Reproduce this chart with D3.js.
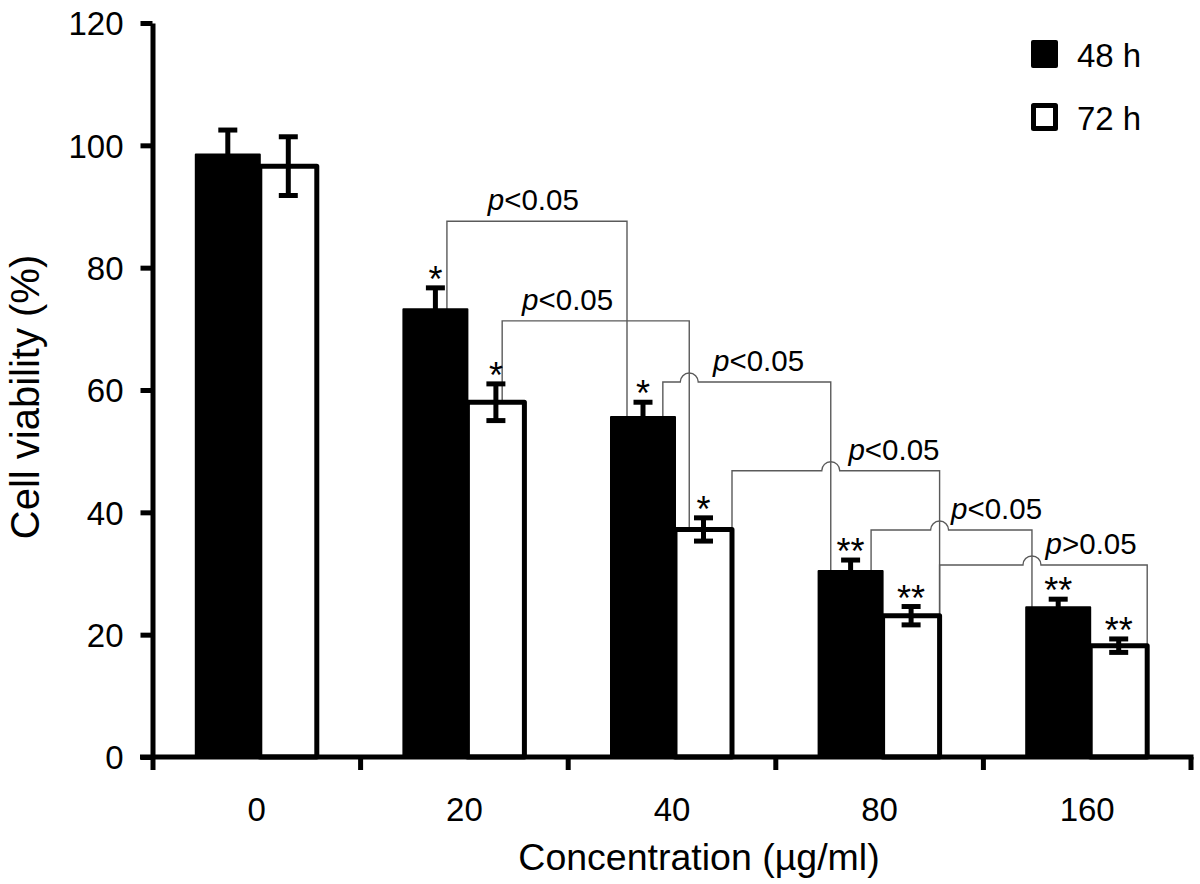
<!DOCTYPE html>
<html>
<head>
<meta charset="utf-8">
<script src="https://cdn.jsdelivr.net/npm/d3@7"></script>
<style>
  html, body { margin: 0; padding: 0; background: #fff; }
  svg { display: block; }
  text { font-family: "Liberation Sans", Arial, sans-serif; fill: #000; }
</style>
</head>
<body>
<svg id="chart" width="1200" height="884"></svg>
<script>
// ---------------- data ----------------
const categories = ["0", "20", "40", "80", "160"];
const series = ["48 h", "72 h"];
const values48 = [98.5, 73.2, 55.6, 30.4, 24.5];
const errors48 = [4.0, 3.5, 2.4, 1.8, 1.3];
const values72 = [96.6, 58.0, 37.2, 23.1, 18.2];
const errors72 = [4.8, 3.0, 1.9, 1.5, 1.1];
const stars48 = ["", "*", "*", "**", "**"];
const stars72 = ["", "*", "*", "**", "**"];
const yTicks = [0, 20, 40, 60, 80, 100, 120];
const xTitle = "Concentration (\u00b5g/ml)";
const yTitle = "Cell viability (%)";
// comparison brackets: [group index, series index]
const bracketFrom = [[1, 0], [1, 1], [2, 0], [2, 1], [3, 0], [3, 1]];
const bracketTo   = [[2, 0], [2, 1], [3, 0], [3, 1], [4, 0], [4, 1]];
const bracketLevel = [87.6, 71.3, 61.3, 46.8, 37.1, 31.4];
const bracketOp = ["<", "<", "<", "<", "<", ">"];
const bracketP = ["0.05", "0.05", "0.05", "0.05", "0.05", "0.05"];

// ---------------- layout (styles / positions) ----------------
const legFracFrom = [0.68, 0.61, 0.81, 1.0, 0.82, 1.0];
const legFracTo   = [0.25, 0.25, 0.19, 1.0, 0.09, 1.0];
const labelFrac   = [0.48, 0.35, 0.57, 0.78, 0.78, 0.73];
const humpFlag    = [false, false, true, true, true, true];

const svg = d3.select("#chart");
const x0 = d3.scaleBand().domain(categories).range([153, 1191]).padding(0);
const y = d3.scaleLinear().domain([0, 120]).range([757, 23]);
const bw = x0.bandwidth();
const cx = c => x0(c) + bw / 2;

const valuesBySeries = [values48, values72];
const errorsBySeries = [errors48, errors72];
const starsBySeries = [stars48, stars72];

function barRect(gi, si) {
  const c = cx(categories[gi]);
  if (si === 0) return { x: c - 61, w: 64 };
  return { x: c + 3, w: 57 };
}

// ---------------- brackets (under bars) ----------------
const bG = svg.append("g").attr("fill", "none").attr("stroke", "#5a5a5a").attr("stroke-width", 1.4);
const rightLegX = [];
bracketFrom.forEach((f, i) => {
  const t = bracketTo[i];
  const rf = barRect(f[0], f[1]);
  const rt = barRect(t[0], t[1]);
  const xl = rf.x + legFracFrom[i] * rf.w;
  const xr = rt.x + legFracTo[i] * rt.w;
  rightLegX.push(xr);
  const yl = y(valuesBySeries[f[1]][f[0]]);
  const yr = y(valuesBySeries[t[1]][t[0]]);
  const yb = y(bracketLevel[i]);
  let d = `M${xl},${yl}V${yb}`;
  if (humpFlag[i] && i > 0) {
    const hx = rightLegX[i - 1];
    const r = 9;
    d += `H${hx - r}A${r},${r} 0 0 1 ${hx + r},${yb}`;
  }
  d += `H${xr}V${yr}`;
  bG.append("path").attr("d", d);
  const lt = svg.append("text")
    .attr("x", xl + labelFrac[i] * (xr - xl))
    .attr("y", yb - 11)
    .attr("text-anchor", "middle")
    .attr("font-size", 29.5);
  lt.append("tspan").attr("font-style", "italic").text("p");
  lt.append("tspan").text(bracketOp[i] + bracketP[i]);
});

// ---------------- bars ----------------
const barsG = svg.append("g");
categories.forEach((c, gi) => {
  const r = barRect(gi, 1);
  barsG.append("rect")
    .attr("x", r.x).attr("width", r.w)
    .attr("y", y(values72[gi])).attr("height", y(0) - y(values72[gi]))
    .attr("fill", "#fff").attr("stroke", "#000").attr("stroke-width", 5)
    .attr("stroke-linejoin", "round");
});
categories.forEach((c, gi) => {
  const r = barRect(gi, 0);
  barsG.append("rect")
    .attr("x", r.x).attr("width", r.w)
    .attr("y", y(values48[gi])).attr("height", y(0) - y(values48[gi]))
    .attr("fill", "#000").attr("stroke", "#000").attr("stroke-width", 2)
    .attr("stroke-linejoin", "round");
});

// ---------------- error bars & stars ----------------
const eG = svg.append("g").attr("stroke", "#000").attr("stroke-width", 5).attr("fill", "none");
series.forEach((s, si) => {
  categories.forEach((c, gi) => {
    const r = barRect(gi, si);
    const ex = r.x + r.w / 2;
    const v = valuesBySeries[si][gi], e = errorsBySeries[si][gi];
    const yt = y(v + e), yb = y(v - e);
    eG.append("line").attr("x1", ex).attr("x2", ex).attr("y1", yt).attr("y2", yb);
    eG.append("line").attr("x1", ex - 9.5).attr("x2", ex + 9.5).attr("y1", yt).attr("y2", yt);
    eG.append("line").attr("x1", ex - 9.5).attr("x2", ex + 9.5).attr("y1", yb).attr("y2", yb);
    const st = starsBySeries[si][gi];
    if (st) {
      svg.append("text").attr("x", ex).attr("y", yt + 4)
        .attr("text-anchor", "middle").attr("font-size", 36).text(st);
    }
  });
});

// ---------------- axes ----------------
const yAxis = d3.axisLeft(y).tickValues(yTicks).tickSize(12).tickSizeOuter(0).tickPadding(17);
const gy = svg.append("g").attr("transform", "translate(152.5,0)").call(yAxis);
gy.select(".domain").attr("stroke-width", 5).attr("stroke", "#000");
gy.selectAll(".tick line").attr("stroke-width", 5).attr("stroke", "#000");
gy.selectAll(".tick text").attr("font-size", 33).attr("font-family", "Liberation Sans, Arial, sans-serif")
  .attr("dy", "0.36em");

const xAxisG = svg.append("g");
xAxisG.append("line").attr("x1", 140).attr("x2", x0.range()[1] + 2.5)
  .attr("y1", y(0)).attr("y2", y(0)).attr("stroke", "#000").attr("stroke-width", 5);
const boundaries = categories.map(c => x0(c)).concat([x0.range()[1]]);
boundaries.forEach(b => {
  xAxisG.append("line").attr("x1", b).attr("x2", b).attr("y1", y(0)).attr("y2", y(0) + 13)
    .attr("stroke", "#000").attr("stroke-width", 5);
});
categories.forEach(c => {
  xAxisG.append("text").attr("x", cx(c)).attr("y", 821).attr("text-anchor", "middle")
    .attr("font-size", 33).text(c);
});

svg.append("text").attr("x", 699).attr("y", 870).attr("text-anchor", "middle")
  .attr("font-size", 37.5).text(xTitle);
svg.append("text").attr("transform", "translate(39,397) rotate(-90)")
  .attr("text-anchor", "middle").attr("font-size", 40).text(yTitle);

// ---------------- legend ----------------
const lg = svg.append("g");
series.forEach((s, i) => {
  const ly = 40 + i * 63;
  if (i === 0) {
    lg.append("rect").attr("x", 1031).attr("y", ly).attr("width", 27).attr("height", 28)
      .attr("rx", 2).attr("fill", "#000");
  } else {
    lg.append("rect").attr("x", 1033.5).attr("y", ly + 2.5).attr("width", 22).attr("height", 23)
      .attr("fill", "#fff").attr("stroke", "#000").attr("stroke-width", 5).attr("stroke-linejoin", "round");
  }
  lg.append("text").attr("x", 1077).attr("y", ly + 27).attr("font-size", 33).text(s);
});
</script>
</body>
</html>
